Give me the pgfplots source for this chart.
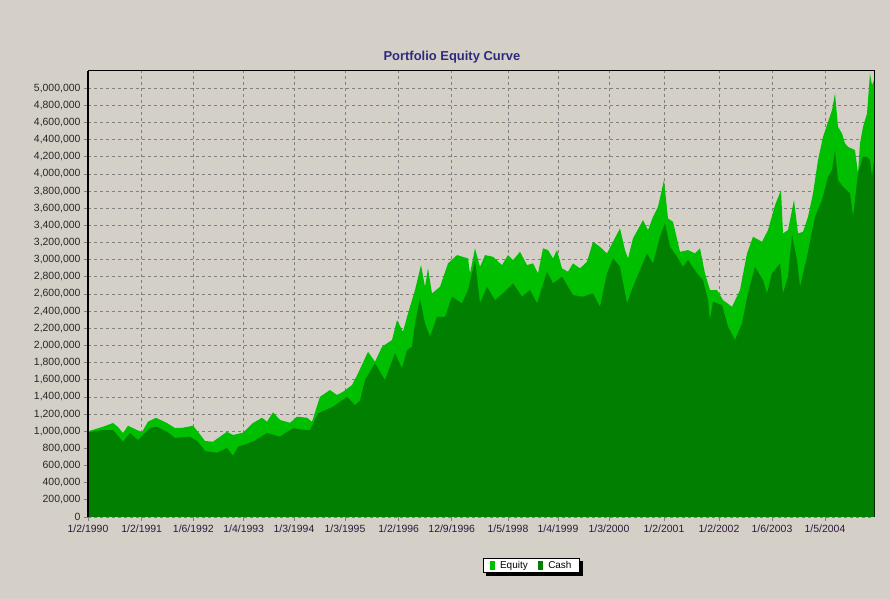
\documentclass[border=0pt]{standalone}
\usepackage{fontspec}
\setmainfont{Liberation Sans}
\usepackage{pgfplots}
\pgfplotsset{compat=1.18}
\pgfdeclarelayer{panellayer}
\pgfdeclarelayer{shadowlayer}
\pgfsetlayers{panellayer,shadowlayer,main}
\definecolor{panel}{HTML}{D4D0C8}
\definecolor{eqgreen}{HTML}{00BE00}
\definecolor{cashgreen}{HTML}{007F00}
\definecolor{gridgrey}{HTML}{808080}
\definecolor{titleblue}{HTML}{2E2A7E}
\definecolor{xlab}{HTML}{2E1A3A}
\definecolor{ylab}{HTML}{262626}

\begin{document}
\begin{tikzpicture}
\begin{pgfonlayer}{panellayer}
\fill[panel] (0bp,0bp) rectangle (890bp,599bp);
\end{pgfonlayer}
\useasboundingbox (0bp,0bp) rectangle (890bp,599bp);
\begin{axis}[
    at={(88bp,82bp)}, anchor=south west,
    scale only axis, width=786bp, height=446bp,
    xmin=0, xmax=786, ymin=0, ymax=5200000,
    axis background/.style={fill=panel},
    xtick={0,53.7,105.3,155.7,206,257,310.7,363.7,420,470,521,576,631,684,737},
    xticklabels={1/2/1990,1/2/1991,1/6/1992,1/4/1993,1/3/1994,1/3/1995,1/2/1996,12/9/1996,1/5/1998,1/4/1999,1/3/2000,1/2/2001,1/2/2002,1/6/2003,1/5/2004},
    minor x tick num=3,
    ytick={0,200000,...,5000000},
    scaled y ticks=false,
    yticklabel style={/pgf/number format/fixed,/pgf/number format/1000 sep={,},
        /pgf/number format/assume math mode=true, text=ylab},
    xticklabel style={text=xlab},
    tick label style={font=\fontsize{10.5}{12}\selectfont},
    tick pos=left, tick align=outside,
    major tick length=4bp, minor tick length=3bp,
    tick style={gridgrey, line width=0.8bp},
    xmajorgrids, ymajorgrids,
    major grid style={gridgrey, dash pattern=on 3bp off 3bp, line width=0.8bp},
    axis line style={black, line width=1bp},
    title={Portfolio Equity Curve},
    title style={at={(0.463,1)}, anchor=base, yshift=5bp, text=titleblue,
        font=\fontsize{13}{15}\selectfont\bfseries},
    legend columns=2,
    legend style={name=eqlegend, at={(axis description cs:0.5643,-0.1087)}, anchor=center,
        draw=black, fill=white, font=\fontsize{10}{12}\selectfont,
        inner xsep=6bp, inner ysep=0.5bp,
        /tikz/every odd column/.append style={column sep=3bp},
        /tikz/every even column/.append style={column sep=8bp}},
    legend image code/.code={\fill[#1] (0bp,-4.5bp) rectangle (5.5bp,4.5bp);},
    extra description/.code={\draw[black, line width=2bp] (rel axis cs:0,0) -- (rel axis cs:0,1);},
]
\addplot[fill=eqgreen, draw=none] coordinates {
(0,1000000) (2,1006000) (15,1052000) (25,1096000) (30,1049000) (35,979000) (40,1064000)
(49,1014000) (54,991000) (60,1111000) (68,1157000) (79,1096000) (87,1037000) (95,1041000)
(105,1064000) (111,979000) (117,886000) (125,878000) (132,936000) (139,994000) (145,956000)
(155,983000) (165,1096000) (174,1157000) (179,1111000) (185,1220000) (192,1131000)
(202,1099000) (209,1169000) (219,1157000) (224,1111000) (232,1402000) (242,1480000)
(249,1422000) (255,1460000) (264,1538000) (270,1675000) (280,1927000) (287,1810000)
(294,1985000) (304,2063000) (309,2296000) (315,2160000) (320,2374000) (327,2646000)
(333,2937000) (337,2684000) (340,2899000) (344,2607000) (352,2684000) (360,2957000)
(369,3054000) (380,3015000) (382,2840000) (387,3132000) (392,2917000) (397,3054000)
(405,3034000) (414,2937000) (420,3054000) (425,2995000) (432,3092000) (439,2937000)
(445,2957000) (450,2840000) (455,3132000) (460,3112000) (465,3015000) (469,3112000)
(474,2899000) (480,2859000) (485,2957000) (492,2899000) (499,2976000) (505,3209000)
(512,3150000) (519,3073000) (525,3209000) (532,3365000) (537,3112000) (540,3015000)
(545,3248000) (555,3462000) (560,3345000) (565,3500000) (570,3617000) (576,3928000)
(580,3481000) (585,3442000) (592,3092000) (600,3112000) (607,3073000) (612,3132000)
(617,2840000) (622,2646000) (629,2646000) (635,2529000) (644,2451000) (652,2646000)
(659,3073000) (665,3267000) (674,3209000) (680,3345000) (687,3636000) (693,3811000)
(695,3307000) (700,3345000) (706,3695000) (710,3307000) (715,3325000) (720,3500000)
(725,3773000) (730,4161000) (735,4432000) (739,4569000) (744,4744000) (747,4938000)
(750,4549000) (754,4472000) (757,4356000) (760,4316000) (767,4277000) (770,4006000)
(772,4356000) (775,4549000) (779,4705000) (782,5171000) (784,5035000) (786,5093000)
} \closedcycle;
\addlegendentry{Equity}
\addplot[fill=cashgreen, draw=none] coordinates {
(0,990000) (2,991000) (15,1014000) (25,1014000) (35,878000) (42,979000) (50,897000)
(62,1037000) (69,1052000) (79,994000) (87,921000) (102,936000) (110,878000) (117,769000)
(129,749000) (139,804000) (145,711000) (150,819000) (165,878000) (179,979000)
(192,936000) (197,976000) (205,1037000) (217,1014000) (222,1014000) (230,1209000)
(245,1286000) (257,1383000) (259,1402000) (267,1305000) (272,1357000) (277,1597000)
(287,1791000) (297,1597000) (307,1908000) (314,1733000) (319,1946000) (324,1985000)
(327,2258000) (332,2549000) (337,2258000) (342,2101000) (349,2334000) (357,2334000)
(364,2568000) (374,2491000) (380,2646000) (387,2995000) (392,2491000) (399,2684000)
(407,2529000) (415,2607000) (425,2724000) (434,2568000) (442,2646000) (449,2491000)
(459,2859000) (465,2724000) (474,2801000) (485,2587000) (495,2568000) (505,2607000)
(512,2451000) (519,2840000) (525,3015000) (532,2917000) (539,2491000) (545,2684000)
(552,2879000) (559,3073000) (565,2957000) (572,3267000) (577,3423000) (582,3150000)
(589,3034000) (595,2917000) (600,2995000) (609,2840000) (615,2762000) (620,2529000)
(622,2296000) (625,2509000) (634,2471000) (640,2218000) (647,2063000) (654,2258000)
(660,2607000) (667,2917000) (675,2762000) (679,2607000) (684,2840000) (692,2957000)
(695,2607000) (700,2801000) (704,3287000) (709,2995000) (712,2684000) (719,3034000)
(727,3500000) (734,3695000) (740,3966000) (744,4044000) (747,4277000) (750,3928000)
(755,3850000) (762,3773000) (765,3500000) (770,4006000) (775,4199000) (779,4199000)
(782,4161000) (784,3966000) (786,4161000)
} \closedcycle;
\addlegendentry{Cash}
\end{axis}
\begin{pgfonlayer}{shadowlayer}
\fill[black] ([shift={(3bp,-3bp)}]eqlegend.south west) rectangle ([shift={(3bp,-3bp)}]eqlegend.north east);
\end{pgfonlayer}
\end{tikzpicture}
\end{document}
